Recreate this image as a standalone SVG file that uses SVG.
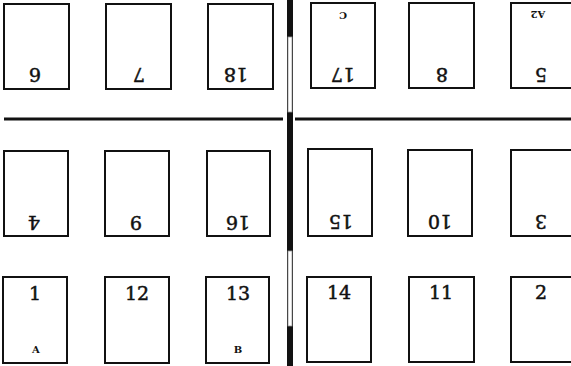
<svg xmlns="http://www.w3.org/2000/svg" width="571" height="366" viewBox="0 0 571 366">
<style>
.box{fill:#fff;stroke:#111;stroke-width:2}
.num{font-family:"DejaVu Serif","Liberation Serif",serif;font-size:19px;fill:#111;stroke:#111;stroke-width:0.5;text-anchor:middle}
.let{font-family:"DejaVu Serif","Liberation Serif",serif;font-size:10px;font-weight:bold;fill:#111;text-anchor:middle}
.rule{stroke:#111;stroke-width:3}
</style>
<rect width="571" height="366" fill="#fff"/>
<g id="connectors">
<line class="rule" x1="4" y1="119" x2="283" y2="119"/>
<line class="rule" x1="295" y1="119" x2="571" y2="119"/>
<rect x="287" y="0" width="6" height="366" fill="#111"/>
<rect x="288" y="37" width="4" height="75" fill="#fff" stroke="#999" stroke-width="0.8"/>
<rect x="288" y="251" width="4" height="75" fill="#fff" stroke="#999" stroke-width="0.8"/>
</g>
<g id="n6"><rect class="box" x="4" y="4" width="65" height="85"/><text class="num" transform="translate(35,68) rotate(180)">6</text></g>
<g id="n7"><rect class="box" x="106" y="4" width="65" height="85"/><text class="num" transform="translate(139,68) rotate(180)">7</text></g>
<g id="n18"><rect class="box" x="208" y="4" width="65" height="85"/><text class="num" transform="translate(236,68) rotate(180)">18</text></g>
<g id="n17"><rect class="box" x="311" y="3" width="64" height="85"/><text class="num" transform="translate(343,68) rotate(180)">17</text><text class="let" transform="translate(343,12) rotate(180)">C</text></g>
<g id="n8"><rect class="box" x="409" y="3" width="65" height="85"/><text class="num" transform="translate(442,68) rotate(180)">8</text></g>
<g id="n5"><rect class="box" x="511" y="3" width="65" height="85"/><text class="num" transform="translate(541,68) rotate(180)">5</text><text class="let" transform="translate(538,11) rotate(180)">A2</text></g>
<g id="n4"><rect class="box" x="4" y="151" width="64" height="85"/><text class="num" transform="translate(34,216) rotate(180)">4</text></g>
<g id="n9"><rect class="box" x="105" y="151" width="64" height="85"/><text class="num" transform="translate(136,216) rotate(180)">9</text></g>
<g id="n16"><rect class="box" x="207" y="151" width="63" height="85"/><text class="num" transform="translate(238,216) rotate(180)">16</text></g>
<g id="n15"><rect class="box" x="308" y="149" width="64" height="87"/><text class="num" transform="translate(341,215) rotate(180)">15</text></g>
<g id="n10"><rect class="box" x="408" y="150" width="64" height="86"/><text class="num" transform="translate(440,215) rotate(180)">10</text></g>
<g id="n3"><rect class="box" x="511" y="150" width="65" height="86"/><text class="num" transform="translate(541,215) rotate(180)">3</text></g>
<g id="n1"><rect class="box" x="3" y="277" width="64" height="86"/><text class="num" x="35" y="300">1</text><text class="let" x="36" y="353">A</text></g>
<g id="n12"><rect class="box" x="105" y="277" width="64" height="86"/><text class="num" x="137" y="300">12</text></g>
<g id="n13"><rect class="box" x="206" y="277" width="63" height="86"/><text class="num" x="238" y="300">13</text><text class="let" x="238" y="353">B</text></g>
<g id="n14"><rect class="box" x="307" y="277" width="64" height="85"/><text class="num" x="339" y="299">14</text></g>
<g id="n11"><rect class="box" x="409" y="277" width="65" height="85"/><text class="num" x="441" y="299">11</text></g>
<g id="n2"><rect class="box" x="511" y="277" width="65" height="85"/><text class="num" x="541" y="299">2</text></g>
</svg>
